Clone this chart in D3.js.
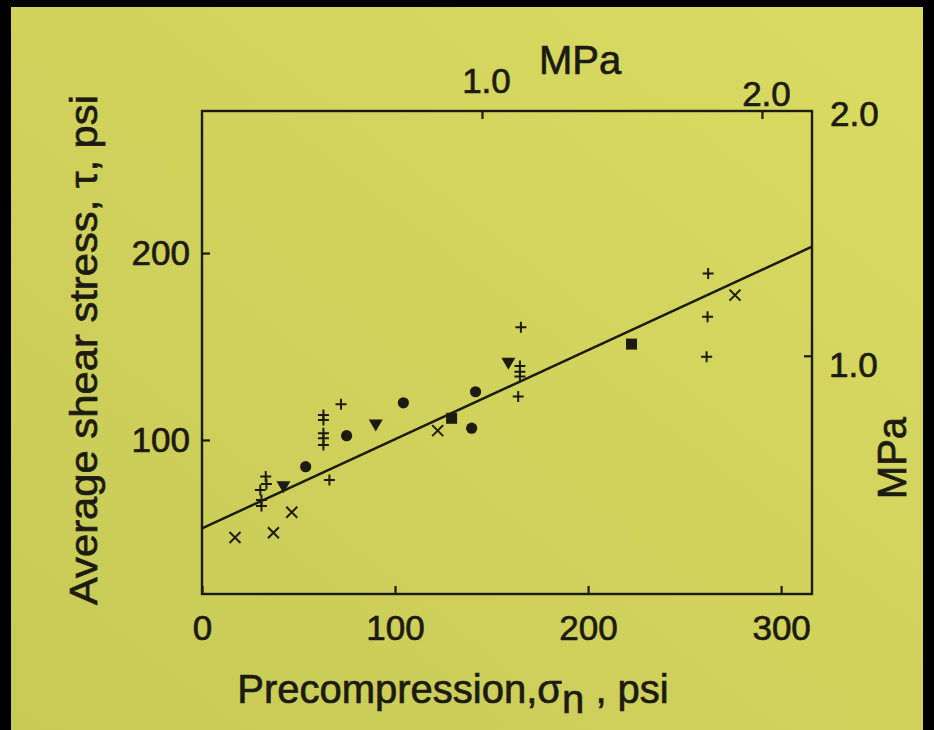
<!DOCTYPE html>
<html>
<head>
<meta charset="utf-8">
<script src="https://cdn.jsdelivr.net/npm/d3@7"></script>
<style>
  html, body { margin: 0; padding: 0; background: #000; }
  svg { display: block; }
  text {
    font-family: "Liberation Sans", Arial, sans-serif;
    fill: #1c1b12;
    stroke: #1c1b12;
    stroke-width: 0.7px;
  }
</style>
</head>
<body>
<svg id="chart" width="934" height="730"></svg>
<script>
// precompression (psi) vs average shear stress (psi)
const plusPoints = [
  [30.8, 64.7], [30.8, 67.9], [30.2, 73.3], [33.4, 76.5], [33.0, 80.4],
  [62.9, 97.3], [62.9, 100.9], [62.9, 103.6], [62.9, 110.7], [62.9, 113.4],
  [66.0, 78.6], [72.0, 119.1],
  [163.8, 123.2], [164.7, 133.9], [164.7, 136.5], [164.7, 139.6], [165.2, 160.3],
  [261.4, 144.5], [261.9, 165.9], [262.2, 189.1]
];
const crossPoints = [[17.1, 47.8], [37.0, 50.4], [46.5, 61.3], [122.1, 105.0], [276.1, 177.5]];
const circlePoints = [[53.7, 85.7], [74.9, 102.3], [104.3, 119.9], [139.7, 106.3], [141.7, 125.8]];
const trianglePoints = [[42.2, 75.0], [90.0, 108.0], [158.7, 141.0]];
const squarePoints = [[129.3, 111.6], [222.5, 151.3]];
const fitLine = [[0, 52.7], [316, 203.4]];

const xTicks = [0, 100, 200, 300];
const yTicks = [100, 200];
const mpaTopTicks = [1.0, 2.0];
const mpaRightTicks = [1.0];
const psiPerMPa = 145.04;

const ink = "#1c1b12";
const svg = d3.select("#chart");

// paper, a little brighter towards the top right like the photo
const paper = svg.append("defs")
  .append("linearGradient")
  .attr("id", "paper")
  .attr("x1", "100%").attr("y1", "0%")
  .attr("x2", "0%").attr("y2", "100%");
paper.append("stop").attr("offset", "0%").attr("stop-color", "#d9db62");
paper.append("stop").attr("offset", "100%").attr("stop-color", "#c8ca57");

svg.append("rect")
  .attr("x", 11).attr("y", 7).attr("width", 912).attr("height", 723)
  .attr("fill", "url(#paper)");

const plotLeft = 202, plotRight = 812, plotTop = 111, plotBottom = 594;

const x = d3.scaleLinear().domain([0, 316]).range([plotLeft, plotRight]);
const y = d3.scaleLinear().domain([17.6, 276]).range([plotBottom, plotTop]);
const xMPa = d3.scaleLinear().domain(x.domain().map((d) => d / psiPerMPa)).range(x.range());
const yMPa = d3.scaleLinear().domain(y.domain().map((d) => d / psiPerMPa)).range(y.range());

const styleAxis = (g, size) => {
  g.select(".domain").remove();
  g.selectAll(".tick line").attr("stroke", ink).attr("stroke-width", 2.2);
  g.selectAll(".tick text")
    .attr("fill", ink)
    .style("font-size", size + "px");
};

svg.append("g")
  .attr("transform", `translate(${plotLeft},0)`)
  .call(d3.axisLeft(y).tickValues(yTicks).tickSize(-8).tickPadding(12).tickFormat(d3.format("d")))
  .call((g) => styleAxis(g, 35));

svg.append("g")
  .attr("transform", `translate(0,${plotBottom})`)
  .call(d3.axisBottom(x).tickValues(xTicks).tickSize(-8).tickPadding(21).tickFormat(d3.format("d")))
  .call((g) => styleAxis(g, 35));

svg.append("g")
  .attr("transform", `translate(0,${plotTop})`)
  .call(d3.axisTop(xMPa).tickValues(mpaTopTicks).tickSize(-8).tickPadding(6).tickFormat(d3.format(".1f")))
  .call((g) => styleAxis(g, 35))
  .call((g) =>
    g.selectAll(".tick text")
      .attr("dx", 4)
      .attr("y", (d) => (d < 1.5 ? -18 : -5))
  );

svg.append("g")
  .attr("transform", `translate(${plotRight},0)`)
  .call(d3.axisRight(yMPa).tickValues(mpaRightTicks).tickSize(-8).tickPadding(17).tickFormat(d3.format(".1f")))
  .call((g) => styleAxis(g, 35))
  .call((g) => g.selectAll(".tick text").attr("dy", "0.6em"));

// right-hand "2.0" sits at the top corner of the frame
svg.append("text")
  .attr("x", plotRight + 18)
  .attr("y", plotTop + 15)
  .style("font-size", "35px")
  .text("2.0");

// frame
svg.append("rect")
  .attr("x", plotLeft).attr("y", plotTop)
  .attr("width", plotRight - plotLeft).attr("height", plotBottom - plotTop)
  .attr("fill", "none").attr("stroke", ink).attr("stroke-width", 2.4);

// fitted line
svg.append("path")
  .datum(fitLine)
  .attr("fill", "none")
  .attr("stroke", ink)
  .attr("stroke-width", 2.5)
  .attr("d", d3.line().x((d) => x(d[0])).y((d) => y(d[1])));

const marks = svg.append("g");
const s = 5.5;

marks.selectAll(".plus")
  .data(plusPoints)
  .enter()
  .append("path")
  .attr("class", "plus")
  .attr("stroke", ink).attr("stroke-width", 2).attr("fill", "none")
  .attr("d", (d) => {
    const px = x(d[0]), py = y(d[1]);
    return `M${px - s},${py}H${px + s}M${px},${py - s}V${py + s}`;
  });

marks.selectAll(".cross")
  .data(crossPoints)
  .enter()
  .append("path")
  .attr("class", "cross")
  .attr("stroke", ink).attr("stroke-width", 2).attr("fill", "none")
  .attr("d", (d) => {
    const px = x(d[0]), py = y(d[1]);
    return `M${px - s},${py - s}L${px + s},${py + s}M${px + s},${py - s}L${px - s},${py + s}`;
  });

marks.selectAll(".dot")
  .data(circlePoints)
  .enter()
  .append("circle")
  .attr("class", "dot")
  .attr("cx", (d) => x(d[0]))
  .attr("cy", (d) => y(d[1]))
  .attr("r", 5.6)
  .attr("fill", ink);

marks.selectAll(".tri")
  .data(trianglePoints)
  .enter()
  .append("path")
  .attr("class", "tri")
  .attr("fill", ink)
  .attr("d", (d) => {
    const px = x(d[0]), py = y(d[1]);
    return `M${px - 7},${py - 5.5}H${px + 7}L${px},${py + 6.5}Z`;
  });

marks.selectAll(".sq")
  .data(squarePoints)
  .enter()
  .append("rect")
  .attr("class", "sq")
  .attr("x", (d) => x(d[0]) - 5.5)
  .attr("y", (d) => y(d[1]) - 5.5)
  .attr("width", 11)
  .attr("height", 11)
  .attr("fill", ink);

// axis titles
svg.append("text")
  .attr("x", 580).attr("y", 74)
  .attr("text-anchor", "middle")
  .style("font-size", "40px")
  .text("MPa");

svg.append("text")
  .attr("transform", "translate(906,458) rotate(-90)")
  .attr("text-anchor", "middle")
  .style("font-size", "40px")
  .text("MPa");

svg.append("text")
  .attr("transform", "translate(97,350) rotate(-90)")
  .attr("text-anchor", "middle")
  .attr("textLength", 510)
  .attr("lengthAdjust", "spacingAndGlyphs")
  .style("font-size", "39px")
  .text("Average shear stress, \u03c4, psi");

const xTitle = svg.append("text")
  .attr("x", 453).attr("y", 703)
  .attr("text-anchor", "middle")
  .style("font-size", "40px");
xTitle.append("tspan").text("Precompression,\u03c3");
xTitle.append("tspan").attr("dy", 10).text("n");
xTitle.append("tspan").attr("dy", -10).text(" , psi");
</script>
</body>
</html>
